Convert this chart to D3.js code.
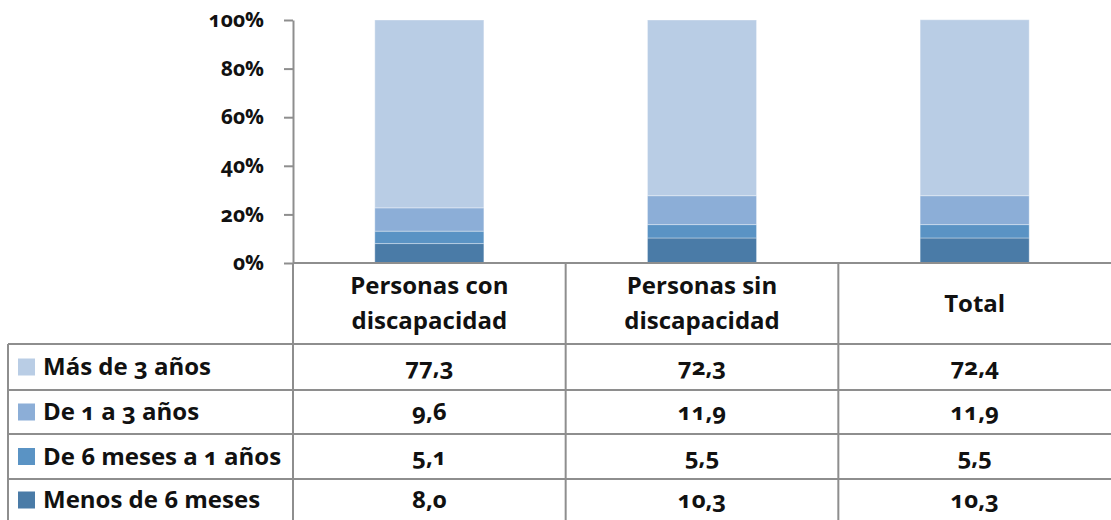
<!DOCTYPE html>
<html>
<head>
<meta charset="utf-8">
<script src="https://cdn.jsdelivr.net/npm/d3@7"></script>
<style>
  body { margin: 0; background: #fff; }
  svg { font-family: "Open Sans", "Noto Sans", sans-serif; font-weight: bold; font-feature-settings: "onum"; }
</style>
</head>
<body>
<div id="chart"></div>
<script>
const categories = ["Personas con discapacidad", "Personas sin discapacidad", "Total"]
const headerLines = [["Personas con", "discapacidad"], ["Personas sin", "discapacidad"], ["Total"]]
const seriesNames = ["Más de 3 años", "De 1 a 3 años", "De 6 meses a 1 años", "Menos de 6 meses"]
const masDe3 = [77.3, 72.3, 72.4]
const de1a3 = [9.6, 11.9, 11.9]
const de6mesesA1 = [5.1, 5.5, 5.5]
const menosDe6 = [8.0, 10.3, 10.3]
const yTicks = [0, 20, 40, 60, 80, 100]
const colors = ["#b9cde5", "#8caed7", "#5a93c4", "#4a7ba7"]

const seriesValues = [masDe3, de1a3, de6mesesA1, menosDe6]

const width = 1111, height = 520
const svg = d3.select("#chart").append("svg").attr("width", width).attr("height", height)

const plotLeft = 293, plotRight = 1111, plotTop = 20, plotBase = 263
const rowY = [344, 390, 434, 479, 521]
const tableLeft = 8
const gridColor = "#8e8e8e"
const fs = 24

const x = d3.scaleBand().domain(categories).range([plotLeft, plotRight]).padding(0)
const y = d3.scaleLinear().domain([0, 100]).range([plotBase, plotTop])

// stack from the bottom: darkest first
const table = categories.map((c, i) => {
  const row = { cat: c }
  seriesNames.forEach((s, j) => row[s] = seriesValues[j][i])
  return row
})
const stackKeys = seriesNames.slice().reverse()
const stacked = d3.stack().keys(stackKeys)(table)

const barW = x.bandwidth() * 0.4
svg.append("g")
  .selectAll("g")
  .data(stacked)
  .enter().append("g")
    .attr("fill", d => colors[seriesNames.indexOf(d.key)])
  .selectAll("rect")
  .data(d => d)
  .enter().append("rect")
    .attr("x", d => x(d.data.cat) + (x.bandwidth() - barW) / 2)
    .attr("y", d => y(d[1]))
    .attr("width", barW)
    .attr("height", d => y(d[0]) - y(d[1]))
    .attr("stroke", "#ffffff")
    .attr("stroke-opacity", 0.35)
    .attr("stroke-width", 1)

// y axis
const yAxis = svg.append("g")
  .attr("transform", "translate(" + plotLeft + ",0)")
  .call(d3.axisLeft(y).tickValues(yTicks).tickFormat(d => d + "%").tickSize(9).tickSizeOuter(0))
yAxis.select(".domain").attr("stroke", gridColor).attr("stroke-width", 2)
yAxis.selectAll(".tick line").attr("stroke", gridColor).attr("stroke-width", 2)
yAxis.selectAll(".tick text")
  .attr("x", -29)
  .attr("font-size", 21)
  .attr("font-family", "'Open Sans', sans-serif")
  .attr("font-weight", "bold")
  .attr("fill", "#111")

// table grid
const grid = svg.append("g").attr("stroke", gridColor).attr("stroke-width", 2)
grid.append("line").attr("x1", plotLeft).attr("x2", plotRight).attr("y1", plotBase).attr("y2", plotBase)
categories.forEach(c => {
  grid.append("line").attr("x1", x(c)).attr("x2", x(c)).attr("y1", plotBase).attr("y2", height)
})
rowY.slice(0, 4).forEach(r => {
  grid.append("line").attr("x1", tableLeft).attr("x2", plotRight).attr("y1", r).attr("y2", r)
})
grid.append("line").attr("x1", tableLeft).attr("x2", tableLeft).attr("y1", rowY[0]).attr("y2", height)

// header
categories.forEach((c, i) => {
  const lines = headerLines[i]
  const cy = (plotBase + rowY[0]) / 2
  lines.forEach((t, k) => {
    svg.append("text")
      .attr("x", x(c) + x.bandwidth() / 2)
      .attr("y", cy + (k - (lines.length - 1) / 2) * 35)
      .attr("dy", "0.35em")
      .attr("text-anchor", "middle")
      .attr("font-size", fs)
      .attr("fill", "#111")
      .text(t)
  })
})

// rows
seriesNames.forEach((s, j) => {
  const cy = (rowY[j] + rowY[j + 1]) / 2
  svg.append("rect")
    .attr("x", 18).attr("y", cy - 8.5).attr("width", 17).attr("height", 17)
    .attr("fill", colors[j])
  svg.append("text")
    .attr("x", 43).attr("y", cy).attr("dy", "0.35em")
    .attr("font-size", fs).attr("fill", "#111")
    .text(s)
  categories.forEach((c, i) => {
    svg.append("text")
      .attr("x", x(c) + x.bandwidth() / 2).attr("y", cy).attr("dy", "0.35em")
      .attr("text-anchor", "middle")
      .attr("font-size", fs).attr("fill", "#111")
      .text(d3.format(".1f")(seriesValues[j][i]).replace(".", ","))
  })
})
</script>
</body>
</html>
